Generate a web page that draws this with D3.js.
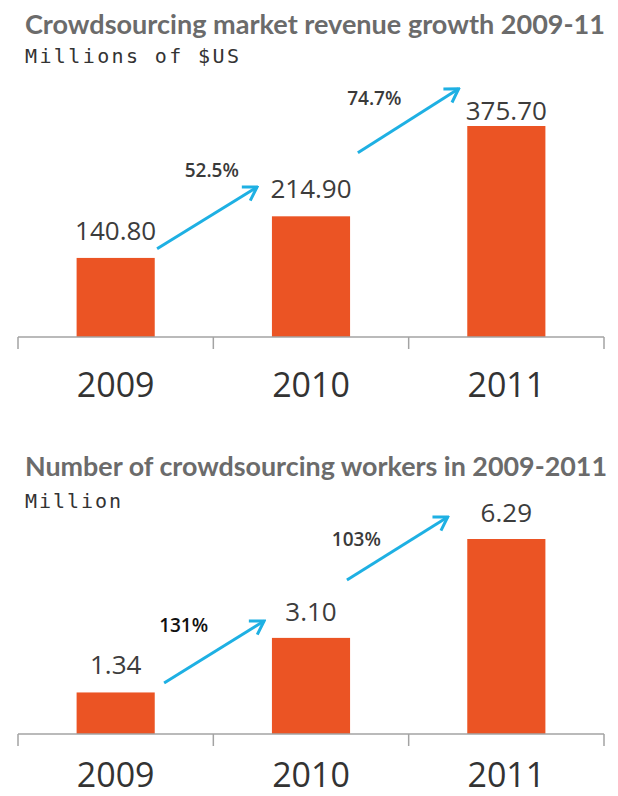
<!DOCTYPE html>
<html>
<head>
<meta charset="utf-8">
<script src="https://cdn.jsdelivr.net/npm/d3@7"></script>
<style>
  html, body { margin: 0; padding: 0; background: #fff; }
  svg { display: block; }
  .title { font-family: Lato, "Open Sans", sans-serif; font-weight: 700; fill: #6b6b6b; }
  .sub { font-family: "DejaVu Sans Mono", monospace; fill: #333; }
  .val { font-family: "Open Sans", sans-serif; fill: #3c3c3c; }
  .pct { font-family: "Open Sans", sans-serif; font-weight: 600; fill: #3a3a3a; }
  .axis text { font-family: "Open Sans", sans-serif; fill: #333; }
</style>
</head>
<body>
<div id="chart"></div>
<script>
// Two small bar charts: crowdsourcing revenue and workers, 2009-2011

const YEARS = ["2009", "2010", "2011"];

const REVENUE = [140.8, 214.9, 375.7];
const REVENUE_LABELS = ["140.80", "214.90", "375.70"];
const REVENUE_GROWTH = ["52.5%", "74.7%"];

const WORKERS = [1.34, 3.10, 6.29];
const WORKERS_LABELS = ["1.34", "3.10", "6.29"];
const WORKERS_GROWTH = ["131%", "103%"];

const W = 618, H = 796;
const BAR = "#eb5424", ARROW = "#1eb0e3", AXIS = "#a3a3a3";

const svg = d3.select("#chart").append("svg").attr("width", W).attr("height", H);

const defs = svg.append("defs");
defs.append("marker").attr("id", "head")
    .attr("markerUnits", "userSpaceOnUse")
    .attr("viewBox", "-16 -10 18 20")
    .attr("markerWidth", 18).attr("markerHeight", 20)
    .attr("refX", 0).attr("refY", 0)
    .attr("orient", "auto")
  .append("path")
    .attr("d", "M-13,-8L0,0L-13,8")
    .attr("fill", "none").attr("stroke", ARROW).attr("stroke-width", 3)
    .attr("stroke-linejoin", "miter");

// layout per chart; arrows are placed in band fractions (x) and data units (v)
const charts = [
  {
    title: "Crowdsourcing market revenue growth 2009-11", titleY: 34, titleLen: 580,
    sub: "Millions of $US", subY: 63, subLen: 214,
    base: 337, barTop: 126, yearPad: 36,
    values: REVENUE, labels: REVENUE_LABELS, growth: REVENUE_GROWTH,
    gaps: [18, 18, 6],
    arrows: [
      { x0: 1.03, v0: 157, x1: -0.19, v1: 267, lx: 1.73, lv: 285 },
      { x0: 1.10, v0: 328, x1: -0.11, v1: 442, lx: 1.31, lv: 413 }
    ]
  },
  {
    title: "Number of crowdsourcing workers in 2009-2011", titleY: 476, titleLen: 582,
    sub: "Million", subY: 508, subLen: 96,
    base: 734, barTop: 539, yearPad: 29,
    values: WORKERS, labels: WORKERS_LABELS, growth: WORKERS_GROWTH,
    gaps: [18, 17, 17],
    arrows: [
      { x0: 1.12, v0: 1.645, x1: -0.10, v1: 3.645, lx: 1.37, lv: 3.29, strong: true },
      { x0: 0.96, v0: 4.97, x1: -0.25, v1: 7.0, lx: 1.08, lv: 6.06 }
    ]
  }
];

charts.forEach(cfg => drawChart(svg.append("g"), cfg));

function drawChart(g, cfg) {
  const x = d3.scaleBand().domain(YEARS).range([18, 604]).paddingInner(0.6).paddingOuter(0.3);
  const y = d3.scaleLinear().domain([0, d3.max(cfg.values)]).range([cfg.base, cfg.barTop]);
  const bw = x.bandwidth();
  const xAt = (i, f) => x(YEARS[i]) + f * bw;
  const rows = YEARS.map((yr, i) => ({ yr, v: cfg.values[i], lbl: cfg.labels[i], gap: cfg.gaps[i] }));

  g.append("text").attr("class", "title")
    .attr("x", 25).attr("y", cfg.titleY)
    .attr("font-size", 26)
    .attr("textLength", cfg.titleLen).attr("lengthAdjust", "spacingAndGlyphs")
    .text(cfg.title);

  g.append("text").attr("class", "sub")
    .attr("x", 25).attr("y", cfg.subY)
    .attr("font-size", 20)
    .attr("textLength", cfg.subLen).attr("lengthAdjust", "spacing")
    .text(cfg.sub);

  // bars
  g.selectAll("rect.bar").data(rows).enter().append("rect").attr("class", "bar")
    .attr("x", d => x(d.yr))
    .attr("y", d => y(d.v))
    .attr("width", bw)
    .attr("height", d => cfg.base - y(d.v))
    .attr("fill", BAR);

  g.selectAll("text.val").data(rows).enter().append("text").attr("class", "val")
    .attr("x", d => x(d.yr) + bw / 2)
    .attr("y", d => y(d.v) - d.gap)
    .attr("text-anchor", "middle")
    .attr("font-size", 26)
    .text(d => d.lbl);

  // axis line with ticks at category boundaries
  const [r0, r1] = x.range();
  const half = x.step() * x.paddingInner() / 2;
  const bounds = [r0].concat(YEARS.slice(1).map(d => x(d) - half), [r1]);
  g.append("line")
    .attr("x1", r0).attr("x2", r1).attr("y1", cfg.base).attr("y2", cfg.base)
    .attr("stroke", AXIS).attr("stroke-width", 1.5);
  g.selectAll("line.tk").data(bounds).enter().append("line").attr("class", "tk")
    .attr("x1", d => d).attr("x2", d => d)
    .attr("y1", cfg.base).attr("y2", cfg.base + 12)
    .attr("stroke", AXIS).attr("stroke-width", 1.5);

  const ax = g.append("g").attr("class", "axis")
    .attr("transform", `translate(0,${cfg.base})`)
    .call(d3.axisBottom(x).tickSize(0).tickPadding(cfg.yearPad));
  ax.select(".domain").remove();
  ax.selectAll("text").attr("font-size", 34).attr("font-family", "'Open Sans', sans-serif").attr("fill", "#333");

  // growth arrows
  cfg.arrows.forEach((a, i) => {
    g.append("line")
      .attr("x1", xAt(i, a.x0)).attr("y1", y(a.v0))
      .attr("x2", xAt(i + 1, a.x1)).attr("y2", y(a.v1))
      .attr("stroke", ARROW).attr("stroke-width", 3)
      .attr("marker-end", "url(#head)");
    g.append("text").attr("class", "pct")
      .attr("x", xAt(i, a.lx)).attr("y", y(a.lv))
      .attr("text-anchor", "middle")
      .attr("font-size", 19)
      .attr("font-weight", a.strong ? 700 : 600)
      .style("fill", a.strong ? "#111" : null)
      .text(cfg.growth[i]);
  });
}
</script>
</body>
</html>
